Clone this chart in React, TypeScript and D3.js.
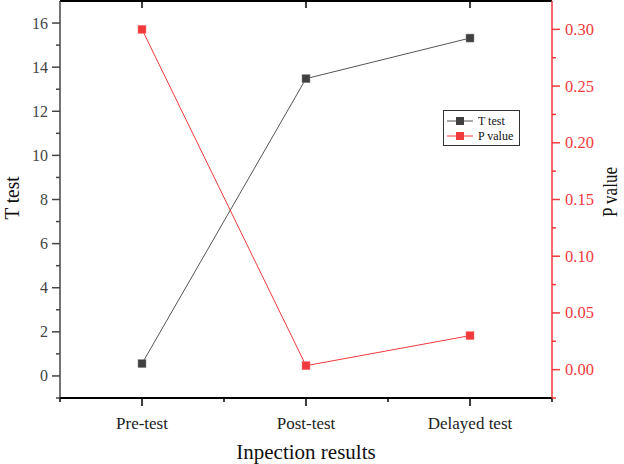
import React from "react";
import * as d3 from "d3";

const categories = ["Pre-test", "Post-test", "Delayed test"];
const tTest = [0.56, 13.48, 15.32];
const pValue = [0.3, 0.0035, 0.03];
const leftTicks = [0, 2, 4, 6, 8, 10, 12, 14, 16];
const leftMinor = [-1, 1, 3, 5, 7, 9, 11, 13, 15];
const rightTicks = [0, 0.05, 0.1, 0.15, 0.2, 0.25, 0.3];
const rightMinor = [-0.025, 0.025, 0.075, 0.125, 0.175, 0.225, 0.275];

const W = 624, H = 464;
const L = 60, R = 552, T = 1, B = 398;
const RED = "#f0393c";
const DARK = "#404040";
const FONT = "'Liberation Serif', 'Times New Roman', serif";

export default function App() {
  const x = d3.scaleLinear().domain([0.5, 3.5]).range([L, R]);
  const yL = d3.scaleLinear().domain([-1, 17]).range([B, T]);
  const yR = d3.scaleLinear().domain([-0.025, 0.325]).range([B, T]);
  const idx = categories.map((_, i) => i + 1);
  const minorX = [0.5, 1.5, 2.5, 3.5];

  const lineT = d3.line<number>().x((_, i) => x(idx[i])).y((d) => yL(d));
  const lineP = d3.line<number>().x((_, i) => x(idx[i])).y((d) => yR(d));

  const ms = 8;
  return (
    <svg width={W} height={H} style={{ position: "fixed", left: 0, top: 0, background: "#fff" }} fontFamily={FONT}>
      <path d={lineT(tTest) || ""} fill="none" stroke="#555" strokeWidth={1} />
      <path d={lineP(pValue) || ""} fill="none" stroke={RED} strokeWidth={1} />
      {tTest.map((v, i) => (
        <rect key={"t" + i} x={x(idx[i]) - ms / 2} y={yL(v) - ms / 2} width={ms} height={ms} fill={DARK} stroke="#888" strokeWidth={0.5} />
      ))}
      {pValue.map((v, i) => (
        <rect key={"p" + i} x={x(idx[i]) - ms / 2} y={yR(v) - ms / 2} width={ms} height={ms} fill={RED} stroke="#f77" strokeWidth={0.5} />
      ))}

      {/* top axis */}
      <line x1={L} x2={R} y1={T} y2={T} stroke="#000" strokeWidth={2} />
      {idx.map((c) => (
        <line key={"tt" + c} x1={x(c)} x2={x(c)} y1={T} y2={T + 7} stroke="#000" strokeWidth={1.5} />
      ))}

      {/* bottom axis */}
      <line x1={L - 1} x2={R + 1} y1={B} y2={B} stroke="#000" strokeWidth={2} />
      {idx.map((c, i) => (
        <g key={"bt" + c}>
          <line x1={x(c)} x2={x(c)} y1={B} y2={B + 8} stroke="#000" strokeWidth={1.5} />
          <text x={x(c)} y={429} textAnchor="middle" fontSize={17} fill="#222">{categories[i]}</text>
        </g>
      ))}
      {minorX.map((c) => (
        <line key={"bm" + c} x1={x(c)} x2={x(c)} y1={B} y2={B + 4} stroke="#000" strokeWidth={1.5} />
      ))}
      <text x={(L + R) / 2} y={459} textAnchor="middle" fontSize={21} fill="#111">Inpection results</text>

      {/* left axis */}
      <line x1={L} x2={L} y1={T} y2={B} stroke="#444" strokeWidth={1.5} />
      {leftTicks.map((v) => (
        <g key={"l" + v}>
          <line x1={L - 8} x2={L} y1={yL(v)} y2={yL(v)} stroke="#444" strokeWidth={1.5} />
          <text x={48} y={yL(v) + 5.5} textAnchor="end" fontSize={16} fill="#444">{v}</text>
        </g>
      ))}
      {leftMinor.map((v) => (
        <line key={"lm" + v} x1={L - 4} x2={L} y1={yL(v)} y2={yL(v)} stroke="#444" strokeWidth={1.5} />
      ))}
      <text transform={`translate(19,198) rotate(-90)`} textAnchor="middle" fontSize={21} fill="#111" textLength={43} lengthAdjust="spacingAndGlyphs">T test</text>

      {/* right axis */}
      <line x1={R} x2={R} y1={T} y2={B} stroke={RED} strokeWidth={1.5} />
      {rightTicks.map((v) => (
        <g key={"r" + v}>
          <line x1={R} x2={R + 8} y1={yR(v)} y2={yR(v)} stroke={RED} strokeWidth={1.5} />
          <text x={565} y={yR(v) + 5.5} textAnchor="start" fontSize={16.5} fill={RED}>{v.toFixed(2)}</text>
        </g>
      ))}
      {rightMinor.map((v) => (
        <line key={"rm" + v} x1={R} x2={R + 4} y1={yR(v)} y2={yR(v)} stroke={RED} strokeWidth={1.5} />
      ))}
      <text transform={`translate(617,192) rotate(-90)`} textAnchor="middle" fontSize={20} fill="#111" textLength={50} lengthAdjust="spacingAndGlyphs">P value</text>

      {/* legend */}
      <rect x={443.5} y={110.5} width={76} height={35} fill="#fff" stroke="#333" strokeWidth={1} />
      <line x1={447} x2={473} y1={121} y2={121} stroke="#555" strokeWidth={1} />
      <rect x={456} y={117} width={8} height={8} fill={DARK} />
      <text x={478} y={125} fontSize={12} fill="#111">T test</text>
      <line x1={447} x2={473} y1={136} y2={136} stroke={RED} strokeWidth={1} />
      <rect x={456} y={132} width={8} height={8} fill={RED} />
      <text x={478} y={140} fontSize={12} fill="#111">P value</text>
    </svg>
  );
}
